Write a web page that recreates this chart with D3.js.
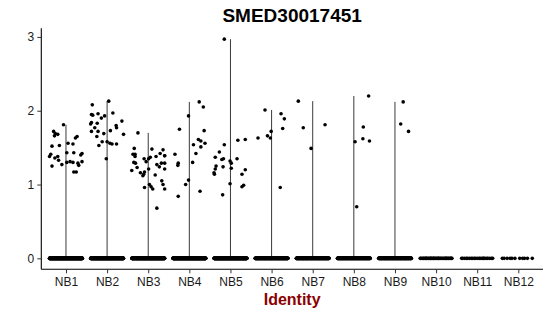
<!DOCTYPE html>
<html>
<head>
<meta charset="utf-8">
<script src="https://cdn.jsdelivr.net/npm/d3@7"></script>
<style>
  body { margin: 0; background: #fff; }
  svg { display: block; font-family: 'Liberation Sans', Arial, sans-serif; }
</style>
</head>
<body>
<svg width="550" height="316"></svg>
<script>
// Identity classes on the x axis
const identities = ['NB1', 'NB2', 'NB3', 'NB4', 'NB5', 'NB6', 'NB7', 'NB8', 'NB9', 'NB10', 'NB11', 'NB12'];

// Non-zero expression values per identity
const exprNB1 = [1.81, 1.72, 1.69, 1.68, 1.66, 1.65, 1.63, 1.52, 1.53, 1.56, 1.55, 1.41, 1.43, 1.43, 1.42, 1.40, 1.38, 1.33, 1.31, 1.30, 1.29, 1.26, 1.30, 1.25, 1.27, 1.17, 1.17, 1.38, 1.36, 1.31];
const exprNB2 = [2.13, 2.08, 1.95, 1.94, 1.96, 1.90, 1.93, 1.97, 1.86, 1.84, 1.82, 1.83, 1.77, 1.72, 1.72, 1.69, 1.73, 1.77, 1.68, 1.58, 1.58, 1.56, 1.55, 1.55, 1.53, 1.35, 1.80, 1.65];
const exprNB3 = [1.70, 1.49, 1.41, 1.41, 1.48, 1.47, 1.42, 1.39, 1.35, 1.35, 1.37, 1.38, 1.31, 1.27, 1.29, 1.29, 1.24, 1.21, 1.23, 1.19, 1.16, 1.14, 1.12, 1.17, 1.21, 1.13, 1.05, 1.00, 0.94, 1.00, 0.97, 0.94, 0.96, 0.68, 1.39, 1.38, 1.30, 1.29];
const exprNB4 = [2.12, 2.05, 1.93, 1.73, 1.75, 1.61, 1.59, 1.56, 1.51, 1.54, 1.42, 1.41, 1.30, 1.29, 1.26, 1.06, 1.00, 0.84, 0.91];
const exprNB5 = [2.97, 1.54, 1.44, 1.37, 1.34, 1.35, 1.25, 1.21, 1.16, 1.14, 1.24, 1.32, 1.29, 1.22, 1.35, 1.60, 1.61, 1.20, 1.14, 1.01, 0.99, 0.97, 0.86];
const exprNB6 = [2.01, 1.96, 1.89, 1.76, 1.72, 1.66, 1.63, 1.63, 0.96];
const exprNB7 = [2.13, 1.77, 1.81, 1.49];
const exprNB8 = [2.20, 1.78, 1.62, 1.59, 1.58, 0.70];
const exprNB9 = [2.12, 1.82, 1.72];

// Horizontal jitter of those points, as a fraction of the category step
const jitNB1 = [-0.06, -0.30, -0.26, -0.20, -0.28, 0.27, 0.23, -0.34, -0.16, 0.05, 0.17, -0.37, 0.02, 0.19, 0.39, 0.36, -0.20, -0.18, 0.10, 0.17, 0.29, 0.31, 0.02, -0.34, -0.10, 0.19, 0.25, -0.40, -0.27, 0.39];
const jitNB2 = [0.04, -0.36, -0.38, -0.35, -0.22, -0.14, -0.06, 0.14, 0.36, -0.38, -0.40, -0.24, -0.30, -0.22, -0.38, -0.08, 0.08, 0.23, 0.40, -0.12, 0.00, 0.07, 0.12, 0.23, -0.20, -0.02, 0.22, -0.25];
const jitNB3 = [-0.25, -0.34, -0.37, -0.32, 0.09, 0.36, 0.29, 0.40, -0.10, 0.01, 0.05, 0.19, -0.05, 0.21, 0.32, 0.40, 0.27, 0.40, -0.27, -0.40, -0.19, -0.11, -0.13, -0.09, 0.01, 0.17, 0.33, 0.36, 0.40, 0.03, 0.07, 0.11, -0.09, 0.21, 0.40, -0.32, -0.35, -0.31];
const jitNB4 = [0.24, 0.34, -0.02, 0.36, -0.24, 0.22, 0.28, 0.38, 0.28, 0.10, 0.16, -0.35, 0.08, -0.27, -0.28, -0.02, -0.09, -0.27, 0.26];
const jitNB5 = [-0.15, -0.15, -0.27, -0.37, -0.21, -0.17, -0.35, -0.37, -0.40, -0.39, -0.18, -0.01, 0.02, 0.02, 0.16, 0.18, 0.36, 0.36, 0.28, -0.01, 0.32, 0.28, -0.19];
const jitNB6 = [-0.16, 0.23, 0.31, 0.27, -0.01, -0.10, -0.03, -0.33, 0.21];
const jitNB7 = [-0.35, -0.23, 0.30, -0.04];
const jitNB8 = [0.36, 0.23, 0.22, 0.38, 0.03, 0.07];
const jitNB9 = [0.20, 0.14, 0.33];

// Number of cells with zero expression in each identity (estimated)
const zeroCounts = [420, 380, 360, 400, 390, 260, 240, 230, 220, 40, 22, 11];

const exprByIdentity = [exprNB1, exprNB2, exprNB3, exprNB4, exprNB5, exprNB6, exprNB7, exprNB8, exprNB9, [], [], []];
const jitByIdentity = [jitNB1, jitNB2, jitNB3, jitNB4, jitNB5, jitNB6, jitNB7, jitNB8, jitNB9, [], [], []];

// Layout
const svg = d3.select('svg');
const margin = { top: 28.2, right: 7, bottom: 46.7, left: 41.3 };
const width = 550 - margin.left - margin.right;
const height = 316 - margin.top - margin.bottom;
const textColor = '#1a1a1a';

// Build one flat table of cells
const cells = [];
identities.forEach((id, i) => {
  for (let k = 0; k < zeroCounts[i]; k++) {
    // spread zero cells evenly-ish across the jitter band
    const f = (k * 0.6180339887 + i * 0.37) % 1;
    cells.push({ id, value: 0, jit: f * 0.8 - 0.4 });
  }
  exprByIdentity[i].forEach((v, k) => {
    cells.push({ id, value: v, jit: jitByIdentity[i][k] });
  });
});

const maxValue = d3.max(cells, (d) => d.value);
const pad = maxValue * 0.05;

const x = d3.scalePoint().domain(identities).range([0, width]).padding(0.6);
const y = d3.scaleLinear().domain([-pad, maxValue + pad]).range([height, 0]);

const g = svg.append('g').attr('transform', `translate(${margin.left},${margin.top})`);

// Violins: nearly all mass at zero, so they collapse to a stem from 0 to the max
const violinData = identities.map((id, i) => ({
  id,
  max: d3.max(exprByIdentity[i]) || 0,
}));
g.selectAll('.violin')
  .data(violinData.filter((d) => d.max > 0))
  .enter()
  .append('line')
  .attr('class', 'violin')
  .attr('x1', (d) => x(d.id))
  .attr('x2', (d) => x(d.id))
  .attr('y1', y(0))
  .attr('y2', (d) => y(d.max))
  .attr('stroke', '#3a3a3a')
  .attr('stroke-width', 1);

// Jittered points
g.selectAll('.pt')
  .data(cells)
  .enter()
  .append('circle')
  .attr('class', 'pt')
  .attr('cx', (d) => x(d.id) + d.jit * x.step())
  .attr('cy', (d) => y(d.value))
  .attr('r', 1.8)
  .attr('fill', '#000');

// Axes
const yAxis = g.append('g')
  .call(d3.axisLeft(y).tickValues([0, 1, 2, 3]).tickFormat(d3.format('d')).tickSizeOuter(0).tickSize(4).tickPadding(3));
const xAxis = g.append('g')
  .attr('transform', `translate(0,${height})`)
  .call(d3.axisBottom(x).tickSizeOuter(0).tickSize(4).tickPadding(4));

[xAxis, yAxis].forEach((ax) => {
  ax.select('.domain').attr('stroke', '#000').attr('stroke-width', 1.1);
  ax.selectAll('.tick line').attr('stroke', '#333');
  ax.selectAll('.tick text')
    .attr('fill', textColor)
    .attr('font-size', 12)
    .attr('font-family', "'Liberation Sans', Arial, sans-serif");
});
// axis lines span the full panel
yAxis.select('.domain').attr('d', `M0,0V${height}`);
xAxis.select('.domain').attr('d', `M0,0H${width}`);

// Title
svg.append('text')
  .attr('x', margin.left + width / 2)
  .attr('y', 21.7)
  .attr('text-anchor', 'middle')
  .attr('font-size', 19)
  .attr('font-weight', 'bold')
  .attr('fill', '#000')
  .text('SMED30017451');

// X axis title
svg.append('text')
  .attr('x', margin.left + width / 2)
  .attr('y', 305)
  .attr('text-anchor', 'middle')
  .attr('font-size', 16)
  .attr('font-weight', 'bold')
  .attr('fill', '#8B0000')
  .text('Identity');
</script>
</body>
</html>
